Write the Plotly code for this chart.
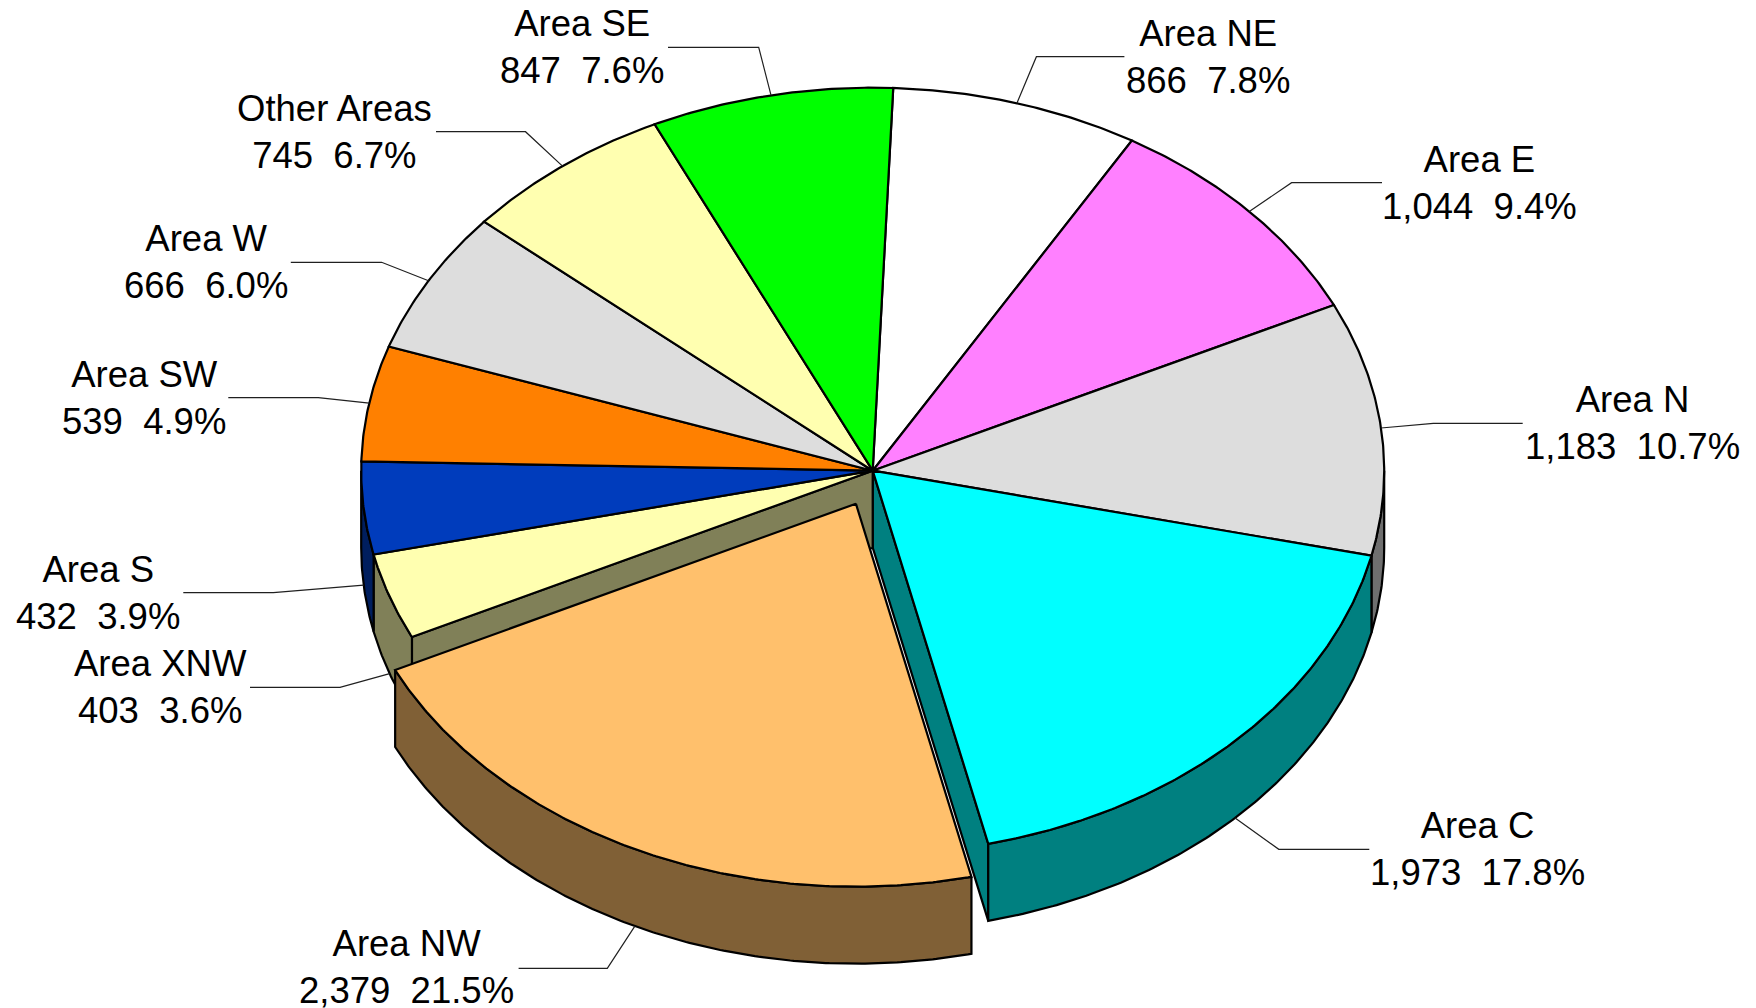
import math
import plotly.graph_objects as go

# ---------------- data ----------------
labels = ["Area NE", "Area E", "Area N", "Area C", "Area NW", "Area XNW",
          "Area S", "Area SW", "Area W", "Other Areas", "Area SE"]
values = [866, 1044, 1183, 1973, 2379, 403, 432, 539, 666, 745, 847]

# ---------------- style ----------------
top_colors = ["#FFFFFF", "#FF80FF", "#DDDDDD", "#00FFFF", "#FFC06C", "#FFFFB0",
              "#003CBC", "#FF8000", "#DDDDDD", "#FFFFB0", "#00FF00"]
side_colors = ["#808080", "#804080", "#6F6F6F", "#008080", "#806036", "#808058",
               "#001E5E", "#804000", "#6F6F6F", "#808058", "#008000"]

W, H = 1756, 1008
CX, CY = 872.7, 470.7        # pie centre (px)
RX, RY = 511.5, 383.0        # ellipse radii (px)
DEPTH = 77.0                 # thickness of the pie (px)
START_ANGLE = 87.7           # first slice starts here, clockwise
EXPLODE_PX = {"Area NW": (-16.8, 33.0)}   # pulled-out slice shift (px)
FONT = dict(family="Liberation Sans, Arial, sans-serif", size=36.5, color="black")
EDGE_W = 2.2

# label centre x, leader y, leader end x (label side), leader bend x
LABEL_LAYOUT = {
    "Area NE": (1208.0, 56.7, 1124.4, 1036.4),
    "Area E": (1479.0, 182.7, 1382.0, 1291.6),
    "Area N": (1632.0, 423.3, 1522.7, 1433.3),
    "Area C": (1477.0, 849.3, 1369.3, 1278.8),
    "Area NW": (406.0, 968.3, 518.6, 607.3),
    "Area XNW": (160.5, 687.3, 250.0, 340.0),
    "Area S": (98.0, 592.7, 183.3, 273.3),
    "Area SW": (143.7, 397.7, 228.3, 318.3),
    "Area W": (206.0, 262.3, 290.8, 381.6),
    "Other Areas": (334.0, 131.7, 436.0, 525.5),
    "Area SE": (582.0, 47.3, 668.0, 758.7),
}
LABEL_DY = {"Area NW": -1.5}

# ---------------- geometry from data ----------------
n = len(values)
total = sum(values)
fracs = [v / total for v in values]
a_hi, a_lo = [], []
acc = START_ANGLE
for f in fracs:
    a_hi.append(acc)
    acc -= 360.0 * f
    a_lo.append(acc)


def offset(i):
    return EXPLODE_PX.get(labels[i], (0.0, 0.0))


def ell(theta, off, drop=0.0):
    t = math.radians(theta)
    return (CX + off[0] + RX * math.cos(t), CY + off[1] - RY * math.sin(t) + drop)


def arc(t1, t2, off, drop=0.0, step=0.4):
    m = max(2, int(abs(t1 - t2) / step) + 1)
    return [ell(t1 + (t2 - t1) * k / (m - 1), off, drop) for k in range(m)]


fig = go.Figure()


def poly(pts, color):
    pts = list(pts) + [pts[0]]
    fig.add_trace(go.Scatter(
        x=[p[0] for p in pts], y=[p[1] for p in pts],
        mode="lines", fill="toself", fillcolor=color,
        line=dict(color="black", width=EDGE_W), hoverinfo="skip", showlegend=False))


def outer_wall(i):
    off = offset(i)
    hi = min(a_hi[i], 0.0)
    lo = max(a_lo[i], -180.0)
    if hi > lo:
        poly(arc(hi, lo, off) + arc(lo, hi, off, DEPTH), side_colors[i])


def radial_wall(i, theta):
    off = offset(i)
    c = (CX + off[0], CY + off[1])
    p = ell(theta, off)
    poly([c, p, (p[0], p[1] + DEPTH), (c[0], c[1] + DEPTH)], side_colors[i])


def top(i):
    off = offset(i)
    c = (CX + off[0], CY + off[1])
    poly([c] + arc(a_hi[i], a_lo[i], off), top_colors[i])


def is_exp(i):
    return labels[i] in EXPLODE_PX


# 1) radial walls of fixed slices exposed by an exploded neighbour
for i in range(n):
    if is_exp(i):
        continue
    prev_i, next_i = (i - 1) % n, (i + 1) % n
    if math.cos(math.radians(a_hi[i])) < 0 and is_exp(prev_i):
        radial_wall(i, a_hi[i])
    if math.cos(math.radians(a_lo[i])) > 0 and is_exp(next_i):
        radial_wall(i, a_lo[i])
# 2) outer walls of fixed slices
for i in range(n):
    if not is_exp(i):
        outer_wall(i)
# 3) tops of fixed slices
for i in range(n):
    if not is_exp(i):
        top(i)
# 4) exploded slices
for i in range(n):
    if is_exp(i):
        if math.cos(math.radians(a_hi[i])) < 0:
            radial_wall(i, a_hi[i])
        if math.cos(math.radians(a_lo[i])) > 0:
            radial_wall(i, a_lo[i])
        outer_wall(i)
        top(i)

# ---------------- labels & leader lines ----------------
annotations = []
for i in range(n):
    lx, ly, end_x, bend_x = LABEL_LAYOUT[labels[i]]
    mid = (a_hi[i] + a_lo[i]) / 2
    drop = DEPTH if -180.0 < mid < 0.0 else 0.0
    px, py = ell(mid, offset(i), drop)
    fig.add_trace(go.Scatter(
        x=[px, bend_x, end_x], y=[py, ly, ly], mode="lines",
        line=dict(color="#202020", width=1.2), hoverinfo="skip", showlegend=False))
    pct = 100.0 * values[i] / total
    annotations.append(dict(
        x=lx, y=ly + LABEL_DY.get(labels[i], 0.0), xref="x", yref="y", showarrow=False,
        xanchor="center", yanchor="middle", align="center",
        text=f"{labels[i]}<br>{values[i]:,}\u00a0\u00a0{pct:.1f}%", font=FONT))

fig.update_layout(
    width=W, height=H, margin=dict(l=0, r=0, t=0, b=0),
    paper_bgcolor="white", plot_bgcolor="white", showlegend=False,
    xaxis=dict(range=[0, W], visible=False, fixedrange=True),
    yaxis=dict(range=[H, 0], visible=False, fixedrange=True),
    annotations=annotations,
)

fig.write_html("out.html", config={"displayModeBar": False},
               post_script="document.body.style.margin='0';document.body.style.overflow='hidden';")
